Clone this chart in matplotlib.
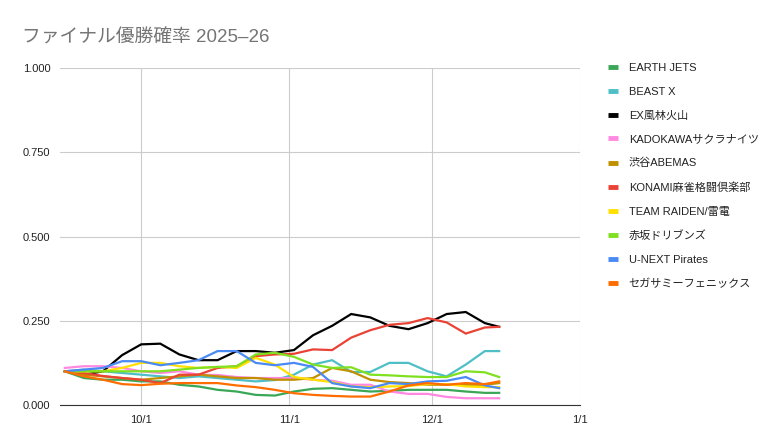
import matplotlib
matplotlib.use("Agg")
import matplotlib.pyplot as plt
import pandas as pd

plt.rcParams['font.family'] = ['Liberation Sans', 'Noto Sans CJK JP', 'DejaVu Sans']

# 日付 (4日ごとに読み取り)
dates = pd.to_datetime([
    "2025-09-15", "2025-09-19", "2025-09-23", "2025-09-27", "2025-10-01", "2025-10-05",
    "2025-10-09", "2025-10-13", "2025-10-17", "2025-10-21", "2025-10-25", "2025-10-29",
    "2025-11-02", "2025-11-06", "2025-11-10", "2025-11-14", "2025-11-18", "2025-11-22",
    "2025-11-26", "2025-11-30", "2025-12-04", "2025-12-08", "2025-12-12", "2025-12-15",
])

teams = ["EARTH JETS", "BEAST X", "EX風林火山", "KADOKAWAサクラナイツ", "渋谷ABEMAS",
         "KONAMI麻雀格闘倶楽部", "TEAM RAIDEN/雷電", "赤坂ドリブンズ", "U-NEXT Pirates",
         "セガサミーフェニックス"]
colors = ["#3aa757", "#4ebfc7", "#000000", "#ff88e0", "#c09000",
          "#ea4335", "#ffe000", "#7fe020", "#4a8af4", "#ff6d00"]

earth_jets = [.100, .080, .075, .075, .070, .070, .060, .055, .045, .040, .030, .028,
              .040, .048, .050, .045, .040, .042, .045, .045, .045, .040, .036, .036]
beast_x = [.100, .105, .100, .095, .090, .085, .080, .085, .080, .075, .070, .074,
           .090, .120, .133, .098, .098, .125, .125, .100, .085, .120, .160, .160]
ex_furin = [.100, .090, .100, .148, .180, .182, .150, .133, .133, .160, .160, .155,
            .163, .207, .235, .270, .260, .235, .225, .243, .270, .276, .243, .232]
kadokawa = [.110, .115, .115, .110, .100, .095, .100, .090, .089, .083, .080, .080,
            .080, .075, .072, .060, .060, .040, .033, .033, .024, .020, .020, .020]
abemas = [.100, .090, .085, .080, .075, .080, .085, .090, .085, .080, .080, .075,
          .075, .080, .110, .100, .075, .068, .065, .060, .060, .060, .060, .065]
konami = [.100, .095, .086, .080, .075, .065, .090, .090, .110, .115, .145, .150,
          .152, .165, .163, .200, .222, .238, .243, .258, .245, .212, .230, .232]
raiden = [.100, .100, .100, .110, .125, .125, .115, .110, .113, .110, .140, .120,
          .083, .075, .068, .055, .053, .055, .056, .062, .062, .055, .053, .053]
drivens = [.100, .100, .100, .100, .100, .100, .105, .110, .113, .115, .150, .155,
           .143, .120, .110, .112, .090, .088, .085, .083, .083, .100, .097, .083]
pirates = [.100, .105, .110, .130, .130, .118, .125, .133, .160, .160, .125, .118,
           .125, .113, .065, .055, .050, .065, .062, .070, .072, .083, .058, .050]
phoenix = [.100, .085, .075, .062, .059, .063, .065, .065, .065, .058, .053, .045,
           .035, .030, .027, .025, .025, .040, .058, .065, .060, .065, .062, .070]

series = [earth_jets, beast_x, ex_furin, kadokawa, abemas,
          konami, raiden, drivens, pirates, phoenix]

fig = plt.figure(figsize=(7.8, 4.48), dpi=100)
ax = fig.add_axes([0.077, 0.096, 0.667, 0.752])

for name, vals, c in zip(teams, series, colors):
    ax.plot(dates, vals, color=c, lw=1.6, label=name, solid_joinstyle='miter')

ax.set_ylim(0, 1)
ax.set_yticks([0, 0.25, 0.5, 0.75, 1.0])
ax.set_yticklabels(["0.000", "0.250", "0.500", "0.750", "1.000"])
ax.set_xlim(pd.Timestamp("2025-09-14"), pd.Timestamp("2026-01-01"))
xt = pd.to_datetime(["2025-10-01", "2025-11-01", "2025-12-01", "2026-01-01"])
ax.set_xticks(xt)
ax.set_xticklabels(["10/1", "11/1", "12/1", "1/1"])

ax.grid(True, color="#cccccc", lw=0.8)
ax.set_axisbelow(True)
for s in ["top", "right", "left"]:
    ax.spines[s].set_visible(False)
ax.spines["bottom"].set_color("#333333")
ax.tick_params(length=0, labelsize=8, colors="#222222", pad=7)

fig.text(0.028, 0.905, "ファイナル優勝確率 2025–26", fontsize=13.5, color="#757575")

leg = fig.legend(loc="upper left", bbox_to_anchor=(0.767, 0.882), frameon=False,
                 fontsize=8, handlelength=0.85, handletextpad=1.0, labelspacing=1.24)
for h in leg.get_lines():
    h.set_linewidth(3.5)
    h.set_solid_capstyle('butt')
for t in leg.get_texts():
    t.set_color("#222222")

fig.savefig("out.png", dpi=100)
